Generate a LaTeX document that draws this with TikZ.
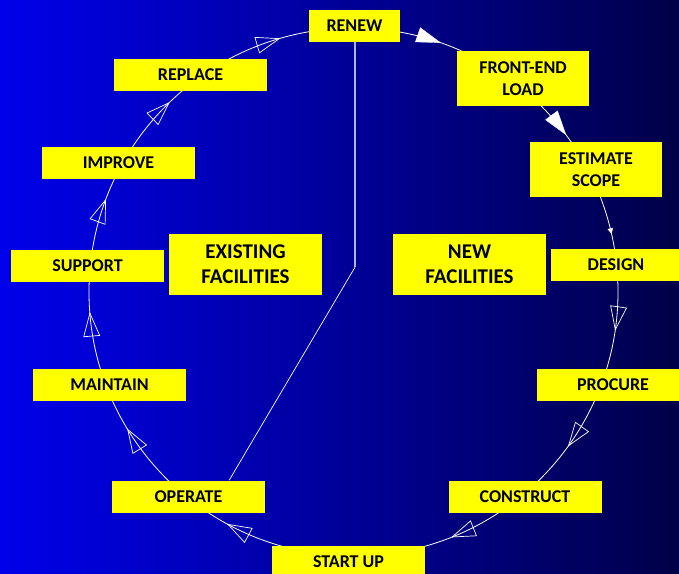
\documentclass[tikz,border=0pt]{standalone}
\usepackage{fontspec}
\setmainfont{Carlito}
\usetikzlibrary{calc}
\definecolor{bgleft}{RGB}{0,0,235}
\definecolor{bgmid}{RGB}{0,0,178}
\definecolor{bgright}{RGB}{0,0,72}
\definecolor{boxyellow}{RGB}{255,255,0}
\definecolor{spine}{RGB}{175,175,240}
\pgfdeclarelayer{backdrop}
\pgfdeclarelayer{lines}
\pgfsetlayers{backdrop,lines,main}
\tikzset{
  stage/.style={fill=boxyellow, text=black, inner sep=0pt, align=center,
    font=\bfseries\fontsize{18}{22}\selectfont,
    minimum width=153pt, minimum height=32pt},
  stagetall/.style={stage, minimum width=132pt, minimum height=55pt},
  group/.style={stage, font=\bfseries\fontsize{21}{25}\selectfont,
    minimum height=61pt},
  ring/.style={draw=white, line width=0.8pt},
  openhead/.style={draw=white, line width=0.7pt, line join=miter},
  solidhead/.style={fill=white, draw=white, line width=0.3pt},
}
% arrowhead on the ring: [style]{angle}{length}{half width}
\newcommand\ringhead[4][openhead]{%
  \coordinate (h) at ($(C)+(#2:264.5pt and 264pt)$);
  \draw[#1, shift={(h)}, rotate=#2-90] (0,0) -- (-#3,#4) -- (-#3,-#4) -- cycle;}
\begin{document}
\begin{tikzpicture}[x=1pt, y=1pt]
\useasboundingbox (0,0) rectangle (679,-573);
\begin{pgfonlayer}{backdrop}
  \shade[left color=bgleft, middle color=bgmid, right color=bgright]
    (0,0) rectangle (679,-573);
\end{pgfonlayer}
\coordinate (C) at (353.5,-292);
\clip (0,0) rectangle (679,-573);

% life-cycle stages
\node[stage, minimum width=91pt] (renew) at (354.5,-26) {RENEW};
\node[stagetall] (frontend) at (523,-78.5) {FRONT-END\\LOAD};
\node[stagetall] (estimate) at (596,-169.5) {ESTIMATE\\SCOPE};
\node[stage, minimum width=131pt] (design) at (616,-265) {DESIGN};
\node[stage, minimum width=152pt] (procure) at (613,-385) {PROCURE};
\node[stage] (construct) at (525,-496.5) {CONSTRUCT};
\node[stage] (startup) at (348.5,-561.5) {START UP};
\node[stage] (operate) at (188.5,-496.5) {OPERATE};
\node[stage] (maintain) at (109.5,-384.5) {MAINTAIN};
\node[stage] (support) at (87.5,-265.5) {SUPPORT};
\node[stage] (improve) at (118.5,-163) {IMPROVE};
\node[stage] (replace) at (190.5,-75) {REPLACE};

% the two halves of the cycle
\node[group] (existing) at (245.5,-264.5) {EXISTING\\FACILITIES};
\node[group] (new) at (469.5,-264.5) {NEW\\FACILITIES};

\begin{pgfonlayer}{lines}
  % the cycle
  \draw[ring] (C) ellipse [x radius=264.5pt, y radius=264pt];
  \ringhead{106.3}{23}{8}
  \ringhead[solidhead]{70.8}{24}{7.5}
  \ringhead[solidhead]{36.6}{24}{7.5}
  \ringhead[solidhead]{12.8}{5}{2.5}
  \ringhead{-8.2}{23}{8}
  \ringhead{-35.6}{23}{8}
  \ringhead{-68.1}{23}{8}
  \ringhead{-118.3}{23}{8}
  \ringhead{-148.6}{23}{8}
  \ringhead{-175.4}{23}{8}
  \ringhead{159.6}{23}{8}
  \ringhead{134.2}{23}{8}
  % divider between existing and new facilities
  \coordinate (bend) at ($(renew.south)+(0.5,-225)$);
  \draw[spine, line width=1.6pt] ($(renew.south)+(0.5,0)$) -- (bend);
  \draw[white, line width=0.7pt] (bend)
    -- ($(operate.north west)!0.765!(operate.north east)$);
\end{pgfonlayer}
\end{tikzpicture}
\end{document}
